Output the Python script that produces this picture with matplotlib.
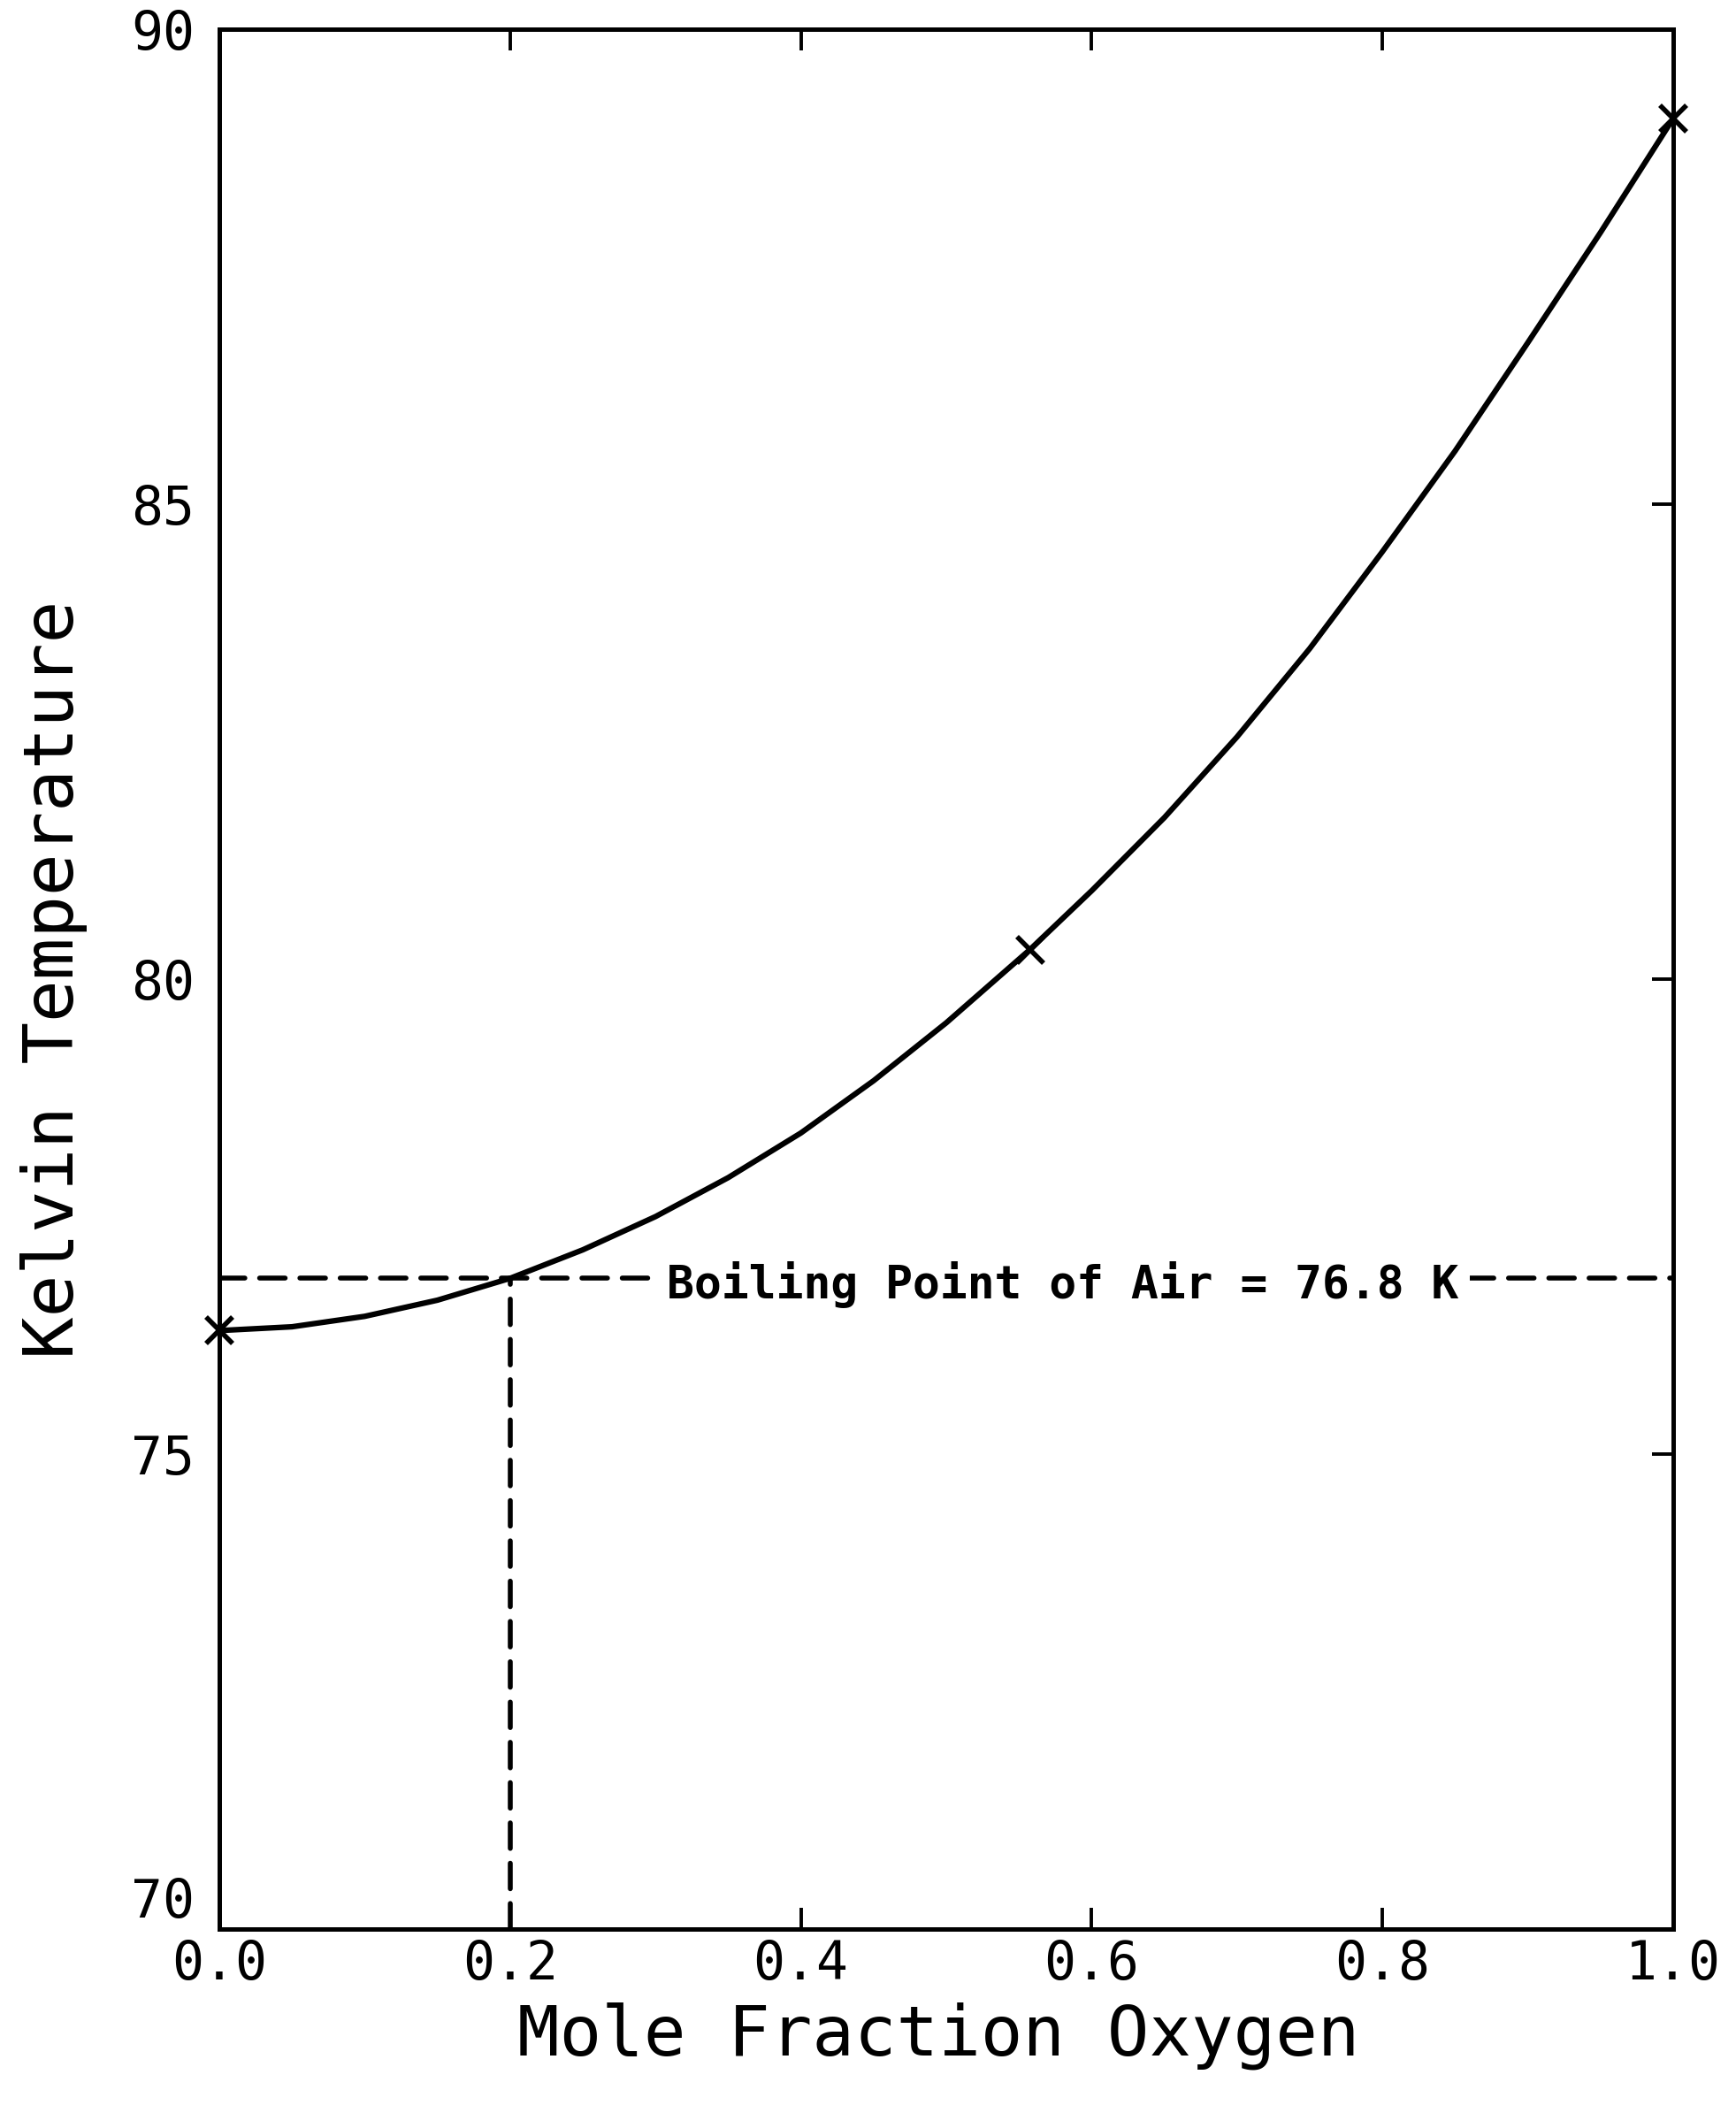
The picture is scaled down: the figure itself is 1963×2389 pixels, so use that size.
import matplotlib
matplotlib.use("Agg")
import matplotlib.pyplot as plt

# Data
mole_fraction = [0.0, 0.05, 0.10, 0.15, 0.20, 0.25, 0.30, 0.35, 0.40, 0.45, 0.50,
                 0.5575, 0.60, 0.65, 0.70, 0.75, 0.80, 0.85, 0.90, 0.95, 1.0]
kelvin_temp = [76.30, 76.34, 76.45, 76.62, 76.85, 77.15, 77.50, 77.91, 78.38, 78.93, 79.54,
               80.31, 80.93, 81.70, 82.55, 83.48, 84.50, 85.56, 86.70, 87.86, 89.06]
marker_x = [0.0, 0.5575, 1.0]
marker_t = [76.30, 80.31, 89.06]
air_fraction = 0.2
air_bp_line = 76.85
air_label = "Boiling Point of Air = 76.8 K"
xticks = [0.0, 0.2, 0.4, 0.6, 0.8, 1.0]
xticklabels = ["0.0", "0.2", "0.4", "0.6", "0.8", "1.0"]
yticks = [70, 75, 80, 85, 90]
yticklabels = ["70", "75", "80", "85", "90"]

mono = ["DejaVu Sans Mono"]
plt.rcParams['font.family'] = mono

fig = plt.figure(figsize=(19.63, 23.89), dpi=100)
ax = fig.add_axes([248/1963, 1 - 2181/2389, (1892-248)/1963, (2181-33)/2389])

ax.plot(mole_fraction, kelvin_temp, color="black", lw=4.5,
        solid_capstyle="round", solid_joinstyle="round")
ax.plot(marker_x, marker_t, ls="none", marker="x", ms=22, mew=4, color="black", clip_on=False)

# dashed guide lines
ax.plot([0.0, 1.0], [air_bp_line, air_bp_line], color="black", lw=4,
        dashes=(5.2, 3.0), dash_capstyle="round")
ax.plot([air_fraction, air_fraction], [70, air_bp_line], color="black", lw=4,
        dashes=(5.2, 3.0), dash_capstyle="round")
ax.text(0.58, air_bp_line - 0.07, air_label, ha="center", va="center", fontsize=37,
        fontweight="bold", family=mono,
        bbox=dict(facecolor="white", edgecolor="none", pad=9))

ax.set_xlim(0, 1)
ax.set_ylim(70, 90)
ax.set_xticks(xticks)
ax.set_xticklabels(xticklabels, fontsize=43)
ax.set_yticks(yticks)
ax.set_yticklabels(yticklabels, fontsize=43)
ax.tick_params(direction="in", length=17, width=2.8, top=True, right=True, left=False, bottom=True)
ax.tick_params(axis="x", pad=8)
ax.tick_params(axis="y", pad=20)
for s in ax.spines.values():
    s.set_linewidth(3.6)

ylabs = ax.get_yticklabels()
ylabs[0].set_va("bottom")

ax.set_xlabel("Mole Fraction Oxygen", fontsize=57)
ax.set_ylabel("Kelvin Temperature", fontsize=57)
ax.xaxis.set_label_coords(0.4945, -0.056)
ax.xaxis.label.set_va("center")
ax.yaxis.set_label_coords(-0.1137, 0.5)
ax.yaxis.label.set_va("center")

fig.savefig("out.png", dpi=100, facecolor="white")
